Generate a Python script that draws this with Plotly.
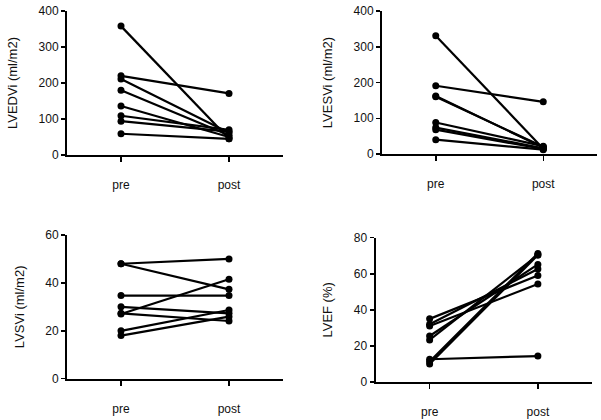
import plotly.graph_objects as go

timepoints = ["pre", "post"]

lvedvi_pre = [358, 220, 211, 180, 136, 109, 94, 59]
lvedvi_post = [45, 171, 62, 55, 50, 70, 65, 45]

lvesvi_pre = [331, 191, 162, 160, 88, 74, 68, 40]
lvesvi_post = [15, 146, 18, 20, 22, 16, 14, 12]

lvsvi_pre = [48, 48, 34.7, 27, 30, 27.3, 20, 18]
lvsvi_post = [50, 37.3, 34.7, 41.5, 27.3, 24.1, 28.7, 25.9]

lvef_pre = [35, 32, 31, 25.5, 23.3, 12.6, 11.3, 10]
lvef_post = [59, 62.7, 54.3, 65.2, 70.4, 14.4, 71.3, 70.4]

panels = [
    ("LVEDVi (ml/m2)", lvedvi_pre, lvedvi_post, [0, 400], [0, 100, 200, 300, 400]),
    ("LVESVi (ml/m2)", lvesvi_pre, lvesvi_post, [0, 400], [0, 100, 200, 300, 400]),
    ("LVSVi (ml/m2)", lvsvi_pre, lvsvi_post, [0, 60], [0, 20, 40, 60]),
    ("LVEF (%)", lvef_pre, lvef_post, [0, 80], [0, 20, 40, 60, 80]),
]

W, H = 601, 420
# pixel boxes: (left, right, top, bottom)
boxes = [
    (67, 283, 11, 155),
    (382, 597, 11, 154),
    (67, 283, 235, 378.7),
    (375.5, 592, 237.7, 382),
]

fig = go.Figure()
font = dict(family="Liberation Sans, Arial, sans-serif", color="#111111")

for i, (title, pre, post, yr, yt) in enumerate(panels):
    n = "" if i == 0 else str(i + 1)
    for a, b in zip(pre, post):
        fig.add_trace(go.Scatter(
            x=[0, 1], y=[a, b], mode="lines+markers",
            line=dict(color="black", width=2.2),
            marker=dict(color="black", size=7),
            xaxis="x" + n, yaxis="y" + n, showlegend=False, cliponaxis=False,
            hoverinfo="skip",
        ))
    l, r, t, btm = boxes[i]
    fig.layout["xaxis" + n] = dict(
        domain=[l / W, r / W], range=[-0.5, 1.5], anchor="y" + n,
        tickvals=[0, 1], ticktext=timepoints, ticks="outside", ticklen=5,
        tickwidth=1.5, tickcolor="black",
        showline=True, linecolor="black", linewidth=2, showgrid=False,
        zeroline=False, tickfont=dict(size=12, **font), ticklabelstandoff=13,
        fixedrange=True, automargin=False,
    )
    fig.layout["yaxis" + n] = dict(
        domain=[1 - btm / H, 1 - t / H], range=yr, anchor="x" + n,
        tickvals=yt, ticks="outside", ticklen=4, tickwidth=1.5, tickcolor="black",
        showline=True, linecolor="black", linewidth=2, showgrid=False,
        zeroline=False, tickfont=dict(size=12, **font),
        title=dict(text=title, font=dict(size=13, **font), standoff=18),
        fixedrange=True, automargin=False,
    )

fig.update_layout(
    width=W, height=H, margin=dict(l=0, r=0, t=0, b=0),
    paper_bgcolor="white", plot_bgcolor="white",
)

fig.write_html(
    "out.html",
    config={"displayModeBar": False, "staticPlot": True},
    post_script="document.body.style.margin='0';document.body.style.overflow='hidden';",
)
